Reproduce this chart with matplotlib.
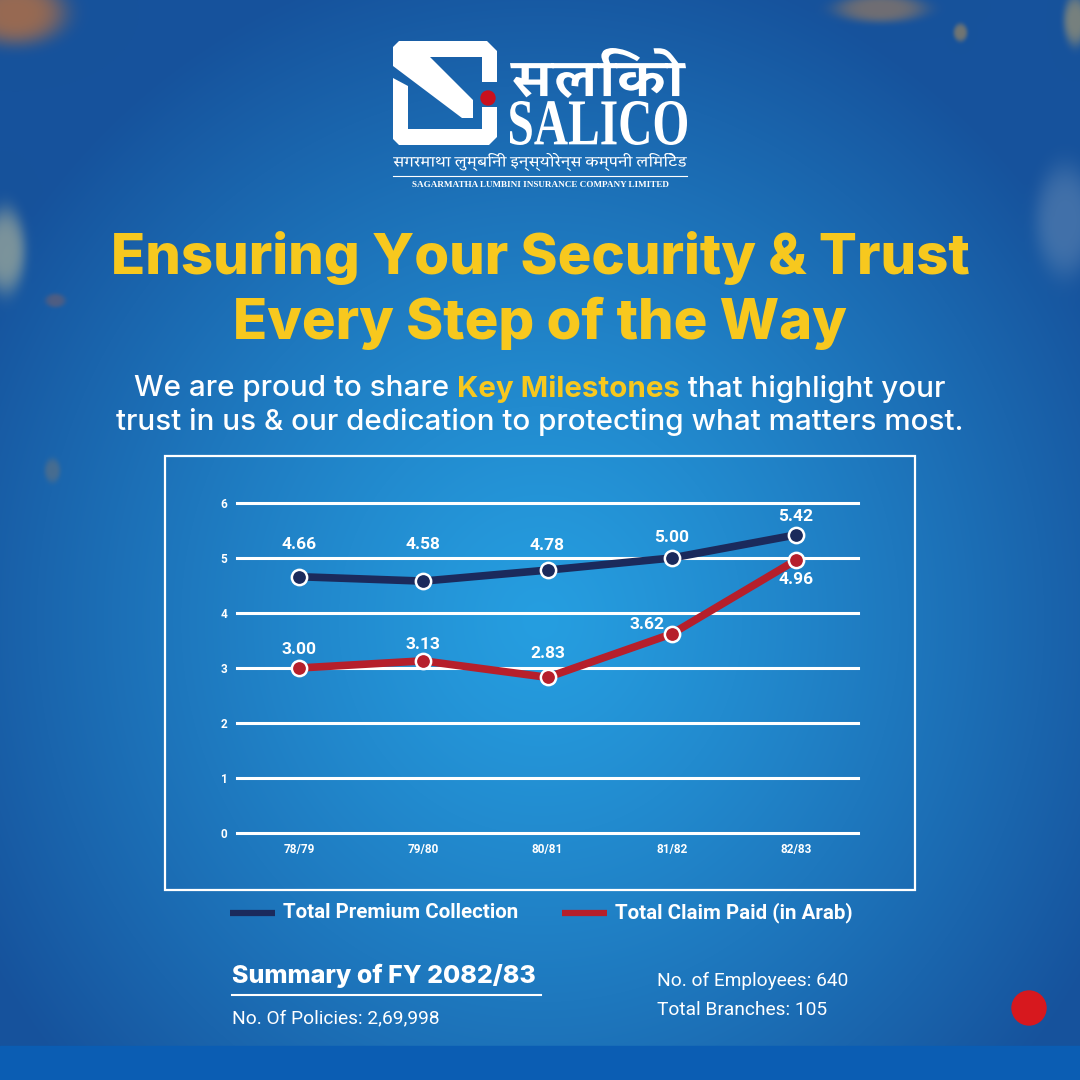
import os
import numpy as np
import matplotlib
matplotlib.use('Agg')
import matplotlib.pyplot as plt
from matplotlib.patches import Rectangle, Polygon, Circle, PathPatch
from matplotlib.textpath import TextPath
from matplotlib.font_manager import FontProperties, findSystemFonts
from matplotlib.ft2font import FT2Font
from matplotlib.transforms import Affine2D

# data
years = ['78/79', '79/80', '80/81', '81/82', '82/83']
premium = [4.66, 4.58, 4.78, 5.00, 5.42]
claims = [3.00, 3.13, 2.83, 3.62, 4.96]
yticks = [0, 1, 2, 3, 4, 5, 6]

NAVY = '#1b2a5c'
RED = '#b61f2b'
YELLOW = '#f7c81e'

# fonts that have devanagari (for the logo text)
deva_fonts = {}
for f in findSystemFonts():
    try:
        if 0x0938 in FT2Font(f).get_charmap():
            deva_fonts[os.path.basename(f)] = f
    except Exception:
        pass


def pick_font(prefs):
    for p in prefs:
        for name in sorted(deva_fonts):
            if name.startswith(p):
                return deva_fonts[name]
    for name in sorted(deva_fonts):
        if 'unifont' not in name.lower():
            return deva_fonts[name]
    return None


logo_font = pick_font(['Kadwa-Bold', 'Kadwa-Regular', 'Martel-', 'NotoSerifDevanagari', 'NotoSansDevanagari'])
line_font = pick_font(['Kadwa-Regular', 'NotoSansDevanagari-Regular', 'NotoSansDevanagari', 'Kadwa'])

fig = plt.figure(figsize=(10.8, 10.8), dpi=100)

# background in pixel coords
bg = fig.add_axes([0, 0, 1, 1])
bg.set_xlim(0, 1080)
bg.set_ylim(1080, 0)
bg.axis('off')
yy, xx = np.mgrid[0:1080, 0:1080]
d = np.sqrt(((xx - 540) / 640.0) ** 2 + ((yy - 620) / 680.0) ** 2)
d = np.clip(d, 0, 1) ** 1.2
c0 = np.array([0x26, 0x9e, 0xe0]) / 255
c1 = np.array([0x16, 0x52, 0x9c]) / 255
img = c0 + (c1 - c0) * d[..., None]
# soft out-of-focus confetti
for bx, by, rx, ry, col, a in [(15, 12, 50, 32, '#b87040', 0.8), (880, 8, 45, 14, '#c98a4a', 0.5),
                               (1075, 20, 12, 25, '#d8b060', 0.5), (5, 250, 20, 42, '#e0d49a', 0.5),
                               (1065, 220, 30, 55, '#a8b8c8', 0.3), (960, 32, 7, 9, '#e0a040', 0.45),
                               (55, 300, 10, 7, '#a06050', 0.4), (52, 470, 8, 12, '#b08050', 0.3)]:
    g = np.exp(-(((xx - bx) / rx) ** 2 + ((yy - by) / ry) ** 2) ** 2) * a
    cc = np.array(matplotlib.colors.to_rgb(col))
    img = img * (1 - g[..., None]) + cc * g[..., None]
bg.imshow(img, extent=(0, 1080, 1080, 0), aspect='auto', zorder=0)
bg.add_patch(Rectangle((0, 1046), 1080, 34, color='#0b5db3', zorder=1))
bg.add_patch(Circle((1029, 1008), 17, color='#d7181e', zorder=1))

# logo icon
bg.add_patch(Polygon([(393, 47), (399, 41), (487, 41), (497, 51), (497, 82), (482, 82), (482, 57),
                      (430, 57), (473, 100), (473, 118), (462, 118), (393, 66)],
                     closed=True, color='white', lw=0, zorder=2))
bg.add_patch(Polygon([(393, 78), (408, 86), (408, 129), (482, 129), (482, 107), (497, 107),
                      (497, 137), (489, 145), (399, 145), (393, 139)],
                     closed=True, color='white', lw=0, zorder=2))
bg.add_patch(Circle((488, 98), 7, color='#c8101e', zorder=3))


def fit_text(s, x0, x1, y_top, y_base, prop):
    tp = TextPath((0, 0), s, size=1, prop=prop)
    bb = tp.get_extents()
    tr = Affine2D().translate(-bb.x0, -bb.y0).scale((x1 - x0) / bb.width, -(y_base - y_top) / bb.height).translate(x0, y_base)
    bg.add_patch(PathPatch(tr.transform_path(tp), fc='white', lw=0, zorder=2))


serif = FontProperties(family='Liberation Serif', weight='bold')
fit_text('SALICO', 510, 687, 101, 145, serif)
if logo_font:
    fit_text('सलिको', 510, 686, 48, 98, FontProperties(fname=logo_font))
if line_font:
    fit_text('सगरमाथा लुम्बिनी इन्स्योरेन्स कम्पनी लिमिटेड', 393, 687, 153, 171, FontProperties(fname=line_font))
bg.plot([393, 687], [176, 176], color='white', lw=0.8, zorder=2)
bg.text(540, 185, 'SAGARMATHA LUMBINI INSURANCE COMPANY LIMITED', color='white', fontsize=6.6,
        family='Liberation Serif', fontweight='bold', ha='center', va='center', zorder=2)

# headline
bg.text(540, 258, 'Ensuring Your Security & Trust', color=YELLOW, fontsize=40.5, family='Inter',
        fontweight='heavy', ha='center', va='center')
bg.text(540, 323, 'Every Step of the Way', color=YELLOW, fontsize=40.5, family='Inter',
        fontweight='heavy', ha='center', va='center')

renderer = fig.canvas.get_renderer()


def rich_line(parts, y, size):
    texts = []
    for s, color, weight in parts:
        texts.append(bg.text(0, y, s, color=color, fontsize=size, fontweight=weight,
                             family='Inter', ha='left', va='center'))
    widths = [t.get_window_extent(renderer).width for t in texts]
    x = 540 - sum(widths) / 2
    for t, w in zip(texts, widths):
        t.set_x(x)
        x += w


rich_line([('We are proud to share ', 'white', 'medium'), ('Key Milestones', YELLOW, 'bold'),
           (' that highlight your', 'white', 'medium')], 389, 21.3)
rich_line([('trust in us & our dedication to protecting what matters most.', 'white', 'medium')], 422, 21.3)

# chart box
bg.add_patch(Rectangle((165, 456), 750, 434, fill=False, ec='white', lw=1.6, zorder=2))

ax = fig.add_axes([237 / 1080, (1080 - 833) / 1080, 621 / 1080, 330 / 1080])
ax.set_facecolor('none')
x = np.arange(len(years))
ax.set_xlim(-0.5, 4.5)
ax.set_ylim(0, 6)
ax.set_yticks(yticks)
ax.set_xticks(x)
ax.set_xticklabels(years)
ax.tick_params(length=0, colors='white', labelsize=8.5, pad=7)
for lab in ax.get_xticklabels() + ax.get_yticklabels():
    lab.set_fontweight('bold')
    lab.set_family('Roboto')
for s in ax.spines.values():
    s.set_visible(False)
ax.yaxis.grid(True, color='white', lw=2.2)
for gl in ax.get_ygridlines():
    gl.set_clip_on(False)
ax.set_axisbelow(True)

ax.plot(x, premium, color=NAVY, lw=5.5, marker='o', ms=11, mfc=NAVY, mec='white', mew=1.8, clip_on=False, zorder=3)
ax.plot(x, claims, color=RED, lw=5.5, marker='o', ms=11, mfc=RED, mec='white', mew=1.8, clip_on=False, zorder=4)

prem_off = [23, 26, 18, 15, 13]
for i, v in enumerate(premium):
    ax.annotate('%.2f' % v, (i, v), xytext=(0, prem_off[i]), textcoords='offset points', ha='center', va='center',
                color='white', fontsize=12.5, fontweight='bold', family='Roboto')
claim_off = [(0, 13), (0, 12), (0, 17), (-18, 7), (0, -14)]
for i, v in enumerate(claims):
    ax.annotate('%.2f' % v, (i, v), xytext=claim_off[i], textcoords='offset points', ha='center', va='center',
                color='white', fontsize=12.5, fontweight='bold', family='Roboto')

# legend
bg.plot([230, 275], [913, 913], color=NAVY, lw=4.5, solid_capstyle='butt')
bg.text(283, 913, 'Total Premium Collection', color='white', fontsize=14.8, fontweight='bold',
        family='Roboto', ha='left', va='center')
bg.plot([562, 607], [913, 913], color=RED, lw=4.5, solid_capstyle='butt')
bg.text(615, 913, 'Total Claim Paid (in Arab)', color='white', fontsize=14.8, fontweight='bold',
        family='Roboto', ha='left', va='center')

# summary
bg.text(232, 976, 'Summary of FY 2082/83', color='white', fontsize=18, fontweight='heavy',
        family='Inter', ha='left', va='center')
bg.plot([232, 541], [995, 995], color='white', lw=1.5)
bg.text(232, 1018, 'No. Of Policies: 2,69,998', color='white', fontsize=13.8, family='Roboto',
        ha='left', va='center')
bg.text(657, 981, 'No. of Employees: 640', color='white', fontsize=13.8, family='Roboto',
        ha='left', va='center')
bg.text(657, 1010, 'Total Branches: 105', color='white', fontsize=13.8, family='Roboto',
        ha='left', va='center')

fig.savefig('out.png', dpi=100)
